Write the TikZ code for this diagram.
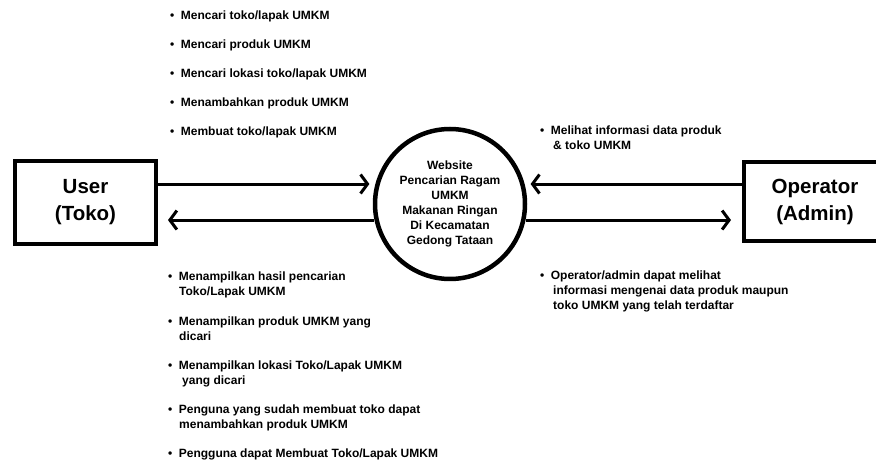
\documentclass[tikz,border=0pt]{standalone}
\usepackage{fontspec}
\setmainfont{Liberation Sans}
\usepackage{tikz}
\usetikzlibrary{shapes,arrows,positioning,calc,arrows.meta}

\newcommand{\itm}{•\hspace{6.5pt}}
\newcommand{\ind}{\hspace{11pt}}

\tikzset{
    entity/.style={draw, line width=4pt, inner sep=0pt, align=center,
        font=\fontsize{20.5}{27}\selectfont\bfseries},
    process/.style={circle, draw, line width=4.5pt, inner sep=0pt, minimum size=150pt,
        align=center, font=\fontsize{12}{15}\selectfont\bfseries},
    flow/.style={line width=3pt, -{Straight Barb[length=7pt,width=19pt]}},
    note/.style={anchor=north west, inner sep=0pt, align=left,
        font=\fontsize{12}{15}\selectfont\bfseries}
}

\begin{document}
\begin{tikzpicture}[x=1pt,y=-1pt]
    \useasboundingbox (0,0) rectangle (876,462);
    \clip (0,0) rectangle (876,462);

    % Entities and process
    \node[entity, minimum width=141pt, minimum height=83pt] (user) at (85.5,202.5) {User\\(Toko)};
    \node[entity, minimum width=142pt, minimum height=79pt] (admin) at (815,201.5) {Operator\\(Admin)};
    \node[process] (web) at (450,204) {Website\\Pencarian Ragam\\UMKM\\Makanan Ringan\\Di Kecamatan\\Gedong Tataan};

    % Data flows
    \draw[flow, shorten >=6pt] (user.east |- web.165) -- (web.165);
    \draw[flow, shorten >=10pt] (web.192) -- (user.east |- web.192);
    \draw[flow, shorten >=6pt] (admin.west |- web.15) -- (web.15);
    \draw[flow, shorten >=11pt] (web.348) -- (admin.west |- web.348);

    % User to system
    \node[note] (in1) at (170,11) {\itm Mencari toko/lapak UMKM};
    \node[note] (in2) at (170,40) {\itm Mencari produk UMKM};
    \node[note] (in3) at (170,69) {\itm Mencari lokasi toko/lapak UMKM};
    \node[note] (in4) at (170,98) {\itm Menambahkan produk UMKM};
    \node[note] (in5) at (170,127) {\itm Membuat toko/lapak UMKM};

    % System to user
    \node[note] (out1) at (168,272) {\itm Menampilkan hasil pencarian\\\ind Toko/Lapak UMKM};
    \node[note] (out2) at (168,317) {\itm Menampilkan produk UMKM yang\\\ind dicari};
    \node[note] (out3) at (168,361) {\itm Menampilkan lokasi Toko/Lapak UMKM\\\hspace{14pt}yang dicari};
    \node[note] (out4) at (168,405) {\itm Penguna yang sudah membuat toko dapat\\\ind menambahkan produk UMKM};
    \node[note] (out5) at (168,449) {\itm Pengguna dapat Membuat Toko/Lapak UMKM};

    % Operator side
    \node[note] (adm1) at (540,126) {\itm Melihat informasi data produk\\\hspace{13pt}\& toko UMKM};
    \node[note] (adm2) at (540,271) {\itm Operator/admin dapat melihat\\\hspace{13pt}informasi mengenai data produk maupun\\\hspace{13pt}toko UMKM yang telah terdaftar};
\end{tikzpicture}
\end{document}
